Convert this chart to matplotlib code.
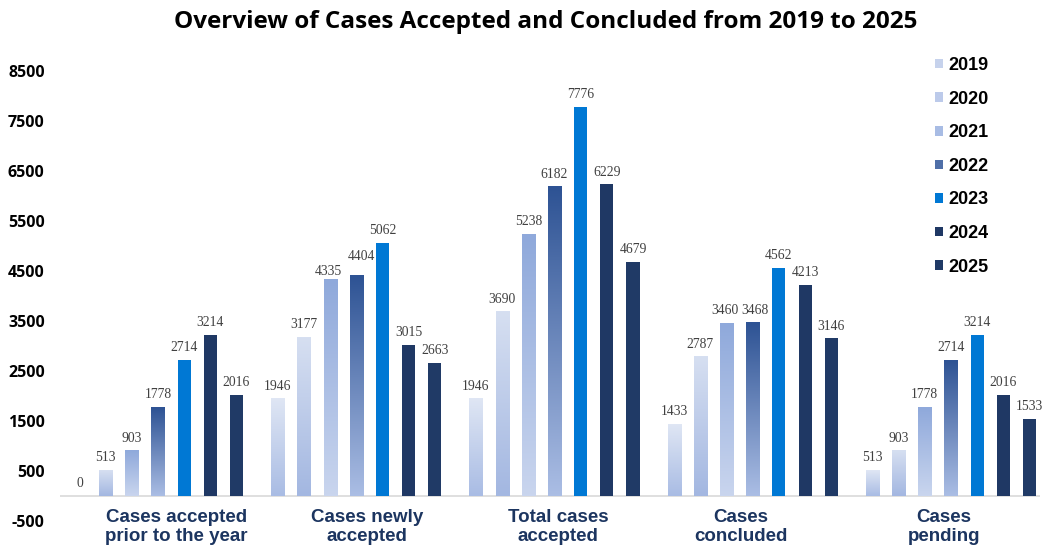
import matplotlib
matplotlib.use('Agg')
import matplotlib.pyplot as plt
import numpy as np
from matplotlib.colors import to_rgb

categories = ['Cases accepted\nprior to the year', 'Cases newly\naccepted',
              'Total cases\naccepted', 'Cases\nconcluded', 'Cases\npending']
years = ['2019', '2020', '2021', '2022', '2023', '2024', '2025']
v2019 = [0, 1946, 1946, 1433, 513]
v2020 = [513, 3177, 3690, 2787, 903]
v2021 = [903, 4335, 5238, 3460, 1778]
v2022 = [1778, 4404, 6182, 3468, 2714]
v2023 = [2714, 5062, 7776, 4562, 3214]
v2024 = [3214, 3015, 6229, 4213, 2016]
v2025 = [2016, 2663, 4679, 3146, 1533]
series = [v2019, v2020, v2021, v2022, v2023, v2024, v2025]

# face colour (legend) and gradient top/bottom (None = solid)
face = ['#c6d2ec', '#bccaea', '#a8bce4', '#4f6fa8', '#0078d4', '#1f3864', '#203a66']
grad = [('#dfe6f4', '#a9bce4'), ('#d6dff1', '#a3b7e1'), ('#8fa9db', '#c9d5ee'),
        ('#2e5394', '#aabde4'), None, None, None]

fig = plt.figure(figsize=(10.43, 5.52), dpi=100)
ax = fig.add_axes([60/1043, 1 - 525.7/552, 980/1043, 470/552])

x = np.arange(len(categories))
step = 0.132
width = 0.066

labels = {}
for j, (yr, vals) in enumerate(zip(years, series)):
    bars = ax.bar(x + (j - 3) * step, vals, width, color=face[j], label=yr, zorder=2)
    if grad[j] is not None:
        for b in bars:
            h = b.get_height()
            if h <= 0:
                continue
            c = np.linspace(to_rgb(grad[j][0]), to_rgb(grad[j][1]), 64).reshape(64, 1, 3)
            ax.imshow(c, extent=(b.get_x(), b.get_x() + b.get_width(), 0, h),
                      aspect='auto', origin='upper', zorder=2.5, interpolation='bilinear')
    labels[j] = ax.bar_label(bars, fmt='%d', padding=4, fontfamily='Liberation Serif',
                             fontsize=9.8, color='#404040')

# nudge crowded labels like the original
labels[2][1].xyann = (-1, 1)
labels[3][1].xyann = (3.5, 9)
labels[2][3].xyann = (-1, 4)
labels[3][3].xyann = (1.5, 4)

ax.axhline(0, color='#d9d9d9', lw=1.2, zorder=1)
ax.set_xlim((60 - 158) / 198.25, (1040 - 158) / 198.25)
ax.set_ylim(-600, 8800)
ax.set_yticks(np.arange(-500, 8501, 1000))
ax.set_yticklabels([str(v) for v in range(-500, 8501, 1000)],
                   fontfamily='Open Sans', fontweight='bold', fontsize=11.5)
ax.tick_params(axis='y', length=0, pad=11)
ax.set_xticks([])
for s in ax.spines.values():
    s.set_visible(False)

# category labels (slightly offset as in the original)
offs = [18.5, 11, 3.5, -12, -7]
for i, (cat, o) in enumerate(zip(categories, offs)):
    ax.text(i + o / 198.25, -0.003, cat, transform=ax.get_xaxis_transform(),
            ha='center', va='center', fontfamily='Liberation Sans', fontweight='bold',
            fontsize=13.5, color='#1c3560', linespacing=1.15)

fig.text(546/1043, 1 - 22/552, 'Overview of Cases Accepted and Concluded from 2019 to 2025',
         ha='center', va='center', fontfamily='Open Sans', fontweight='bold', fontsize=17.5)

leg = ax.legend(loc='upper left', bbox_to_anchor=(935/1043, 1 - 57/552),
                bbox_transform=fig.transFigure, frameon=False,
                prop={'family': 'Liberation Sans', 'weight': 'bold', 'size': 13},
                handlelength=0.45, handleheight=0.45, handletextpad=0.3,
                labelspacing=0.92, borderpad=0, borderaxespad=0)

fig.savefig('out.png', dpi=100)
